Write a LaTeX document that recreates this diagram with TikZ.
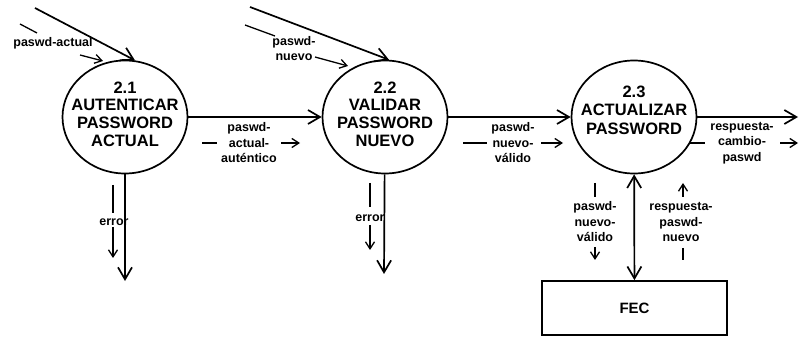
\documentclass[tikz,border=0pt]{standalone}
\usepackage{fontspec}
\setmainfont{Liberation Sans}
\usetikzlibrary{arrows.meta,shapes.geometric}
\begin{document}
\begin{tikzpicture}[x=1pt,y=1pt,
  proc/.style={draw, line width=1.7pt, ellipse, minimum width=125pt, minimum height=113pt, inner sep=0pt},
  ptitle/.style={font=\bfseries\fontsize{16.5}{17.7}\selectfont, align=center, inner sep=0pt},
  lbl/.style={font=\bfseries\fontsize{12.5}{15.5}\selectfont, align=center, inner sep=0pt},
  store/.style={draw, line width=1.7pt, minimum width=185pt, minimum height=54pt, font=\bfseries\fontsize{15}{17}\selectfont},
  flow/.style={line width=1.7pt, -{Straight Barb[length=12pt,width=14pt]}},
  bflow/.style={line width=1.7pt, {Straight Barb[length=12pt,width=14pt]}-{Straight Barb[length=12pt,width=14pt]}},
  tick/.style={line width=1.3pt},
  ind/.style={line width=1.3pt, -{Straight Barb[length=7pt,width=9pt]}}
]
\useasboundingbox (0,0) rectangle (799,337);

% processes
\node[proc] (c1) at (125,220) {};
\node[ptitle] (t1) at (125,223) {2.1\\AUTENTICAR\\PASSWORD\\ACTUAL};
\node[proc] (c2) at (385,220) {};
\node[ptitle] (t2) at (385,223) {2.2\\VALIDAR\\PASSWORD\\NUEVO};
\node[proc] (c3) at (634,220) {};
\node[ptitle, font=\bfseries\fontsize{16.5}{18.5}\selectfont] (t3) at (634,227) {2.3\\ACTUALIZAR\\PASSWORD};

% store
\node[store] (fec) at (634.5,29) {FEC};

% free ends
\coordinate (s1) at (35,329);
\coordinate (s2) at (250,330);
\coordinate (out) at (798,220);
\coordinate (e1) at (125,56);
\coordinate (e2) at (384,63);

% flows
\draw[flow] (s1) -- (c1.80);
\draw[flow] (s2) -- (c2.86);
\draw[flow] (c1) -- (c2);
\draw[flow] (c2) -- (c3);
\draw[flow] (c3) -- (out);
\draw[flow] (c1) -- (e1);
\draw[flow] (c2) -- (e2);
\draw[bflow] (c3) -- (fec);

% labels
\node[lbl] (l0) at (53,294) {paswd-actual};
\draw[tick] (20,313) -- (37,304);
\draw[ind] (80,282) -- (103,276);

\node[lbl] (l1) at (294,288.5) {paswd-\\nuevo};
\draw[tick] (245,312) -- (275,301);
\draw[ind] (315,280) -- (348,271);

\node[lbl] (l2) at (249,194) {paswd-\\actual-\\auténtico};
\draw[tick] (202,194) -- (217,194);
\draw[ind] (281,194) -- (300,194);

\node[lbl] (l3) at (513,194) {paswd-\\nuevo-\\válido};
\draw[tick] (463,194) -- (487,194);
\draw[ind] (541,194) -- (563,194);

\node[lbl] (l4) at (742,194) {respuesta-\\cambio-\\paswd};
\draw[tick] (689,194) -- (705,194);
\draw[ind] (780,194) -- (798,194);

\node[lbl] (l5) at (595,115) {paswd-\\nuevo-\\válido};
\draw[tick] (595,154) -- (595,140);
\draw[ind] (595,90) -- (595,77);

\node[lbl] (l6) at (681,115) {respuesta-\\paswd-\\nuevo};
\draw[ind] (683,140) -- (683,154);
\draw[tick] (683,89) -- (683,77);

\node[lbl] (l7) at (114,115) {error};
\draw[tick] (113,152) -- (113,124);
\draw[ind] (113,110) -- (113,79);

\node[lbl] (l8) at (370,119) {error};
\draw[tick] (370,154) -- (370,130);
\draw[ind] (370,112) -- (370,87);
\end{tikzpicture}
\end{document}
